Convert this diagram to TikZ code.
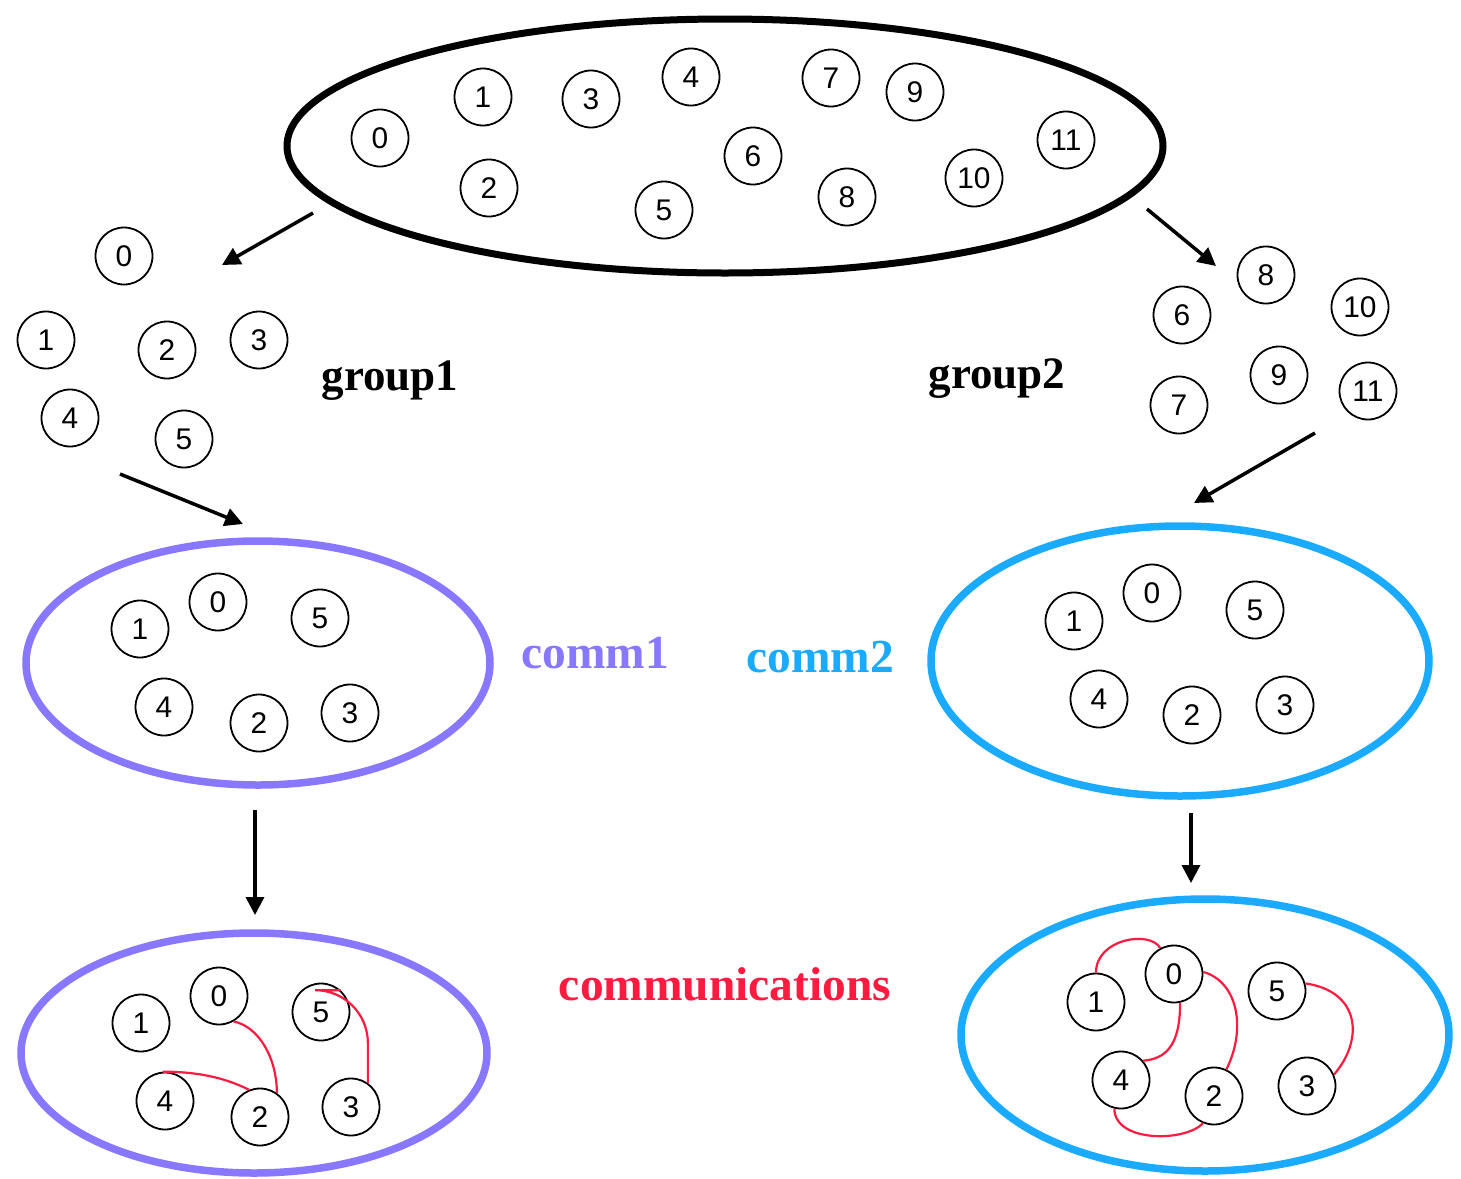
\documentclass[tikz,border=0pt]{standalone}
\usepackage{fontspec}
\setmainfont{Liberation Serif}
\setsansfont{Liberation Sans}
\usepackage{xcolor}
\usetikzlibrary{shapes.geometric, arrows.meta}

\definecolor{commpurple}{RGB}{136,119,255}
\definecolor{commblue}{RGB}{26,170,255}
\definecolor{msgred}{RGB}{255,26,64}

\begin{document}
\begin{tikzpicture}[
    x=0.1mm, y=-0.1mm,
    proc/.style={circle, draw, line width=0.18mm, minimum size=5.7mm, inner sep=0pt,
        font=\sffamily\fontsize{8.5}{9}\selectfont},
    ring/.style={ellipse, draw, inner sep=0pt, line width=0.75mm},
    arrow/.style={-{Triangle[length=1.8mm, width=1.8mm]}, line width=0.35mm},
    msg/.style={msgred, line width=0.22mm},
    grouptext/.style={anchor=base, inner sep=0pt, font=\bfseries\fontsize{12.8}{15}\selectfont},
    commtext/.style={anchor=base, inner sep=0pt, font=\bfseries\fontsize{13.5}{16}\selectfont}
]
\useasboundingbox (0,0) rectangle (1461,1179);

% all processes together
\node[ring, line width=0.7mm, minimum width=87.6mm, minimum height=25.4mm] (world) at (725,146) {};
\foreach \n/\x/\y in {0/380/138, 1/483/97, 2/489/188, 3/591/99, 4/691/77, 5/664/210,
                      6/753/156, 7/831/78, 8/847/197, 9/915/92, 10/974/178, 11/1066/140}
    \node[proc] (w\n) at (\x,\y) {\n};

% split into two groups
\foreach \n/\x/\y in {0/124/256, 1/46/340, 2/167/350, 3/259/340, 4/70/418, 5/184/439}
    \node[proc] (g\n) at (\x,\y) {\n};
\foreach \n/\x/\y in {6/1182/315, 7/1179/405, 8/1266/275, 9/1279/375, 10/1360/307, 11/1368/391}
    \node[proc] (h\n) at (\x,\y) {\n};
\node[grouptext] (g1label) at (390,390) {group1};
\node[grouptext] (g2label) at (997,388) {group2};

\coordinate (wl) at (313,213);
\coordinate (gl) at (222,265);
\coordinate (wr) at (1147,209);
\coordinate (gr) at (1216,266);
\draw[arrow] (wl) -- (gl);
\draw[arrow] (wr) -- (gr);

% new communicators, renumbered from 0
\node[ring, commpurple, minimum width=46.4mm, minimum height=24.4mm] (comm1) at (258,663) {};
\node[ring, commblue, minimum width=49.8mm, minimum height=27.0mm] (comm2) at (1180,661) {};
\node[ring, commpurple, minimum width=46.6mm, minimum height=24.0mm] (low1) at (254,1053) {};
\node[ring, commblue, minimum width=48.8mm, minimum height=27.2mm] (low2) at (1205,1035) {};

\foreach \n/\x/\y in {0/218/602, 1/140/629, 2/259/723, 3/350/713, 4/164/707, 5/320/618} {
    \node[proc] (p\n) at (\x,\y) {\n};
    \node[proc] (lp\n) at (\x+1,\y+394) {\n};
}
\foreach \n/\x/\y in {0/1152/593, 1/1074/621, 2/1192/715, 3/1285/705, 4/1099/699, 5/1255/610} {
    \node[proc] (q\n) at (\x,\y) {\n};
    \node[proc] (rq\n) at (\x+22,\y+381) {\n};
}
\node[commtext, commpurple] (c1label) at (595,668) {comm1};
\node[commtext, commblue] (c2label) at (820,672) {comm2};
\node[commtext, msgred] (msglabel) at (725,1000) {communications};

\coordinate (gl1) at (120,474);
\coordinate (cl1) at (243,524);
\coordinate (gr1) at (1315,433);
\coordinate (cr1) at (1194,503);
\draw[arrow] (gl1) -- (cl1);
\draw[arrow] (gr1) -- (cr1);

\coordinate (cl2) at (255,810);
\coordinate (ll) at (255,915);
\coordinate (cr2) at (1191,813);
\coordinate (lr) at (1191,883);
\draw[arrow] (cl2) -- (ll);
\draw[arrow] (cr2) -- (lr);

% messages inside comm1
\draw[msg] (lp0.-60) .. controls +(25,5) and +(0,-35) .. (lp2.55);
\draw[msg] (lp4.94) .. controls +(40,0) and +(-20,-10) .. (lp2.112);
\draw[msg, rounded corners=15] (lp5.48) -| (lp3.55);

% messages inside comm2
\draw[msg] (rq1.north) .. controls +(0,-34) and +(-10,-18) .. (rq0.118);
\draw[msg] (rq0.-78) .. controls +(0,44) and +(22,-2) .. (rq4.41);
\draw[msg] (rq0.4) .. controls +(35,10) and +(20,-40) .. (rq2.65);
\draw[msg] (rq4.-103) .. controls +(0,34) and +(-18,19) .. (rq2.-112);
\draw[msg] (rq5.15) .. controls +(55,8) and +(30,-35) .. (rq3.23);

\end{tikzpicture}
\end{document}
